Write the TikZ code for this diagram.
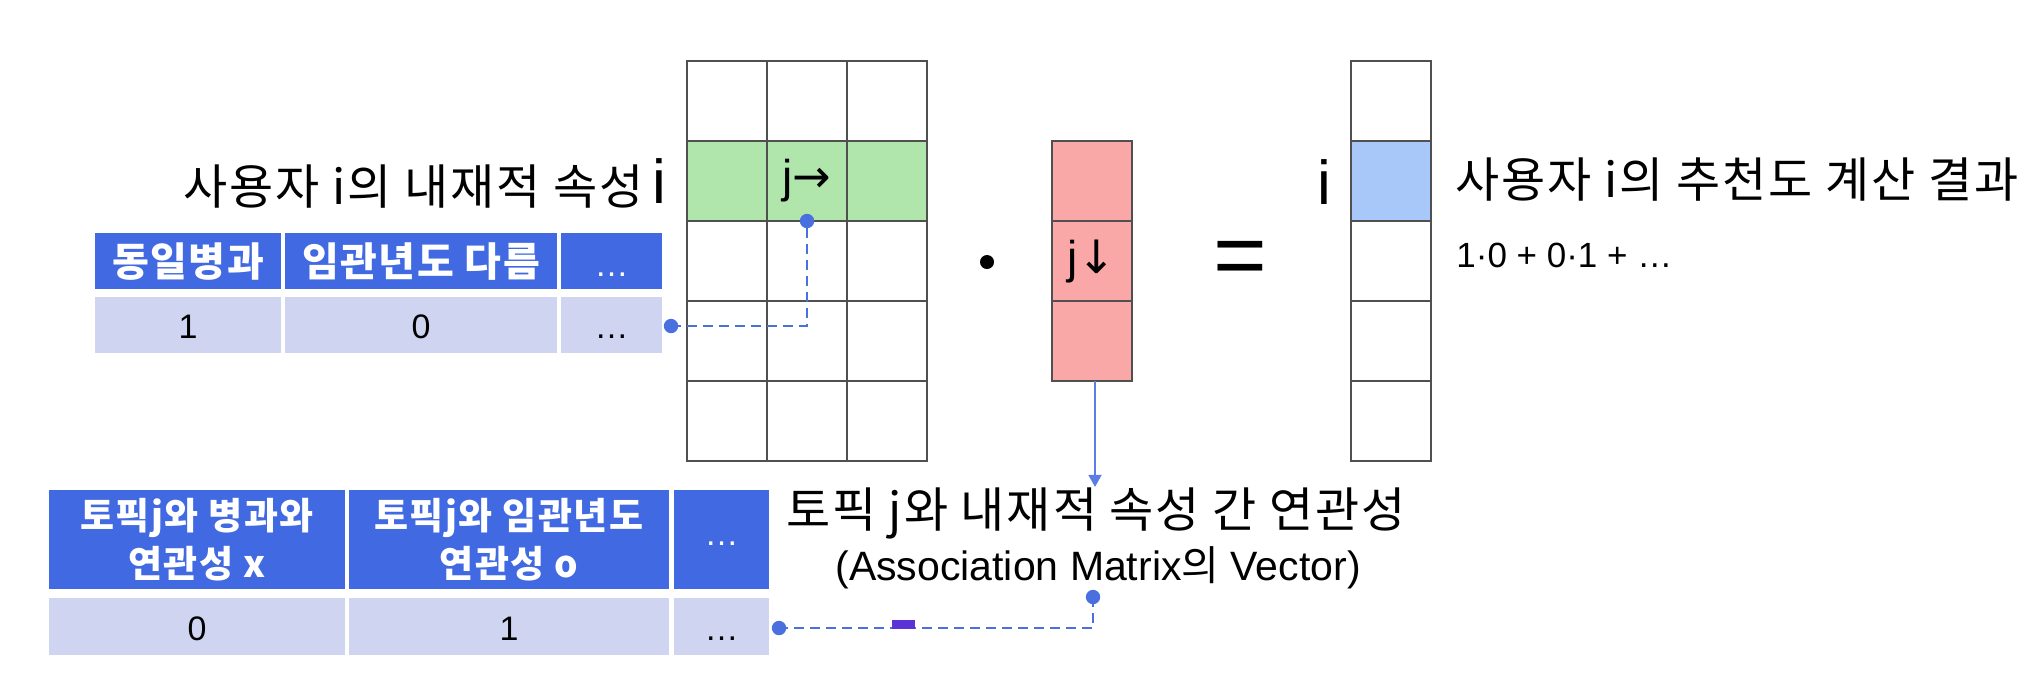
\documentclass[tikz,border=0pt]{standalone}
\usepackage{fontspec}
\setmainfont{Liberation Sans}
\newfontfamily\kr{Noto Sans CJK KR}[LetterSpace=4]
\newfontfamily\krplain{Noto Sans CJK KR}
\newfontfamily\symf{DejaVu Sans}
\usetikzlibrary{arrows.meta}
\definecolor{hdrblue}{RGB}{65,105,225}
\definecolor{datlav}{RGB}{207,213,241}
\definecolor{gfill}{RGB}{176,230,172}
\definecolor{rfill}{RGB}{250,167,167}
\definecolor{bfill}{RGB}{168,200,250}
\definecolor{gridgray}{RGB}{80,80,80}
\definecolor{linkblue}{RGB}{74,112,224}
\definecolor{purp}{RGB}{90,50,215}
\tikzset{
  gcell/.style={draw=gridgray, line width=1.4pt, inner sep=0pt, outer sep=0pt,
    minimum width=40pt, minimum height=40pt, font=\fontsize{23}{26}\selectfont},
  hdr/.style={fill=hdrblue, inner sep=0pt, outer sep=0pt, text=white,
    font=\kr\bfseries\fontsize{20}{22}\selectfont, text height=15pt, text depth=0pt},
  hdrtwo/.style={fill=hdrblue, inner sep=0pt, outer sep=0pt, text=white, align=center,
    font=\kr\bfseries\fontsize{18.5}{24}\selectfont},
  dat/.style={fill=datlav, inner sep=0pt, outer sep=0pt,
    font=\fontsize{17}{20}\selectfont, text height=13pt, text depth=0pt},
  link/.style={draw=linkblue, line width=1.3pt, dash pattern=on 5pt off 3pt},
  linkdot/.style={fill=linkblue},
  bigtxt/.style={inner sep=0pt, font=\kr\fontsize{24}{28}\selectfont},
  bigi/.style={inner sep=0pt, font=\fontsize{31}{34}\selectfont},
}
\begin{document}
\begin{tikzpicture}[x=0.5pt,y=-0.5pt]
\useasboundingbox (0,0) rectangle (2032,681);

% ---- association matrix (5 x 3) ----
\foreach \r/\f in {1/white,2/gfill,3/white,4/white,5/white}{
  \foreach \c in {1,2,3}{
    \node[gcell, fill=\f] (m-\r-\c) at ({687+80*(\c-0.5)},{61+80*(\r-0.5)}) {};
  }
}
\node[gcell, fill=gfill] (m-2-2) at (807,181) {j{\symf →}};

% ---- red vector ----
\node[gcell, fill=rfill] (v1) at (1092,181) {};
\node[gcell, fill=rfill] (v2) at (1092,261) {j{\symf ↓}};
\node[gcell, fill=rfill] (v3) at (1092,341) {};

% ---- result vector ----
\foreach \r/\f in {1/white,2/bfill,3/white,4/white,5/white}{
  \node[gcell, fill=\f] (r\r) at (1391,{61+80*(\r-0.5)}) {};
}

% ---- operators ----
\node[circle, fill=black, inner sep=0pt, minimum size=7pt] (dotop) at (987,262) {};
\node[inner sep=0pt, font=\fontsize{46}{50}\selectfont] (eq) at (1240,264) {=};

% ---- labels ----
\node[bigtxt, anchor=east] (ltitle) at (644,187) {사용자 i의 내재적 속성};
\node[bigi, anchor=base] (li) at (659,203) {i};
\node[bigi, anchor=base] (ri) at (1324,204) {i};
\node[bigtxt, anchor=west] (rtitle) at (1455,180) {사용자 i의 추천도 계산 결과};
\node[inner sep=0pt, anchor=base west, font=\fontsize{17.5}{20}\selectfont] (calc) at (1456,267) {1·0 + 0·1 + …};
\node[bigtxt] (lbl) at (1096,513) {토픽 j와 내재적 속성 간 연관성};
\node[inner sep=0pt, font=\fontsize{20.5}{24}\selectfont] (sub) at (1098,568) {(Association Matrix{\krplain 의} Vector)};

% ---- top table ----
\node[hdr, minimum width=93pt, minimum height=28pt] (t1h) at (188,261) {동일병과};
\node[hdr, minimum width=136pt, minimum height=28pt] (t2h) at (421,261) {임관년도 다름};
\node[hdr, minimum width=50.5pt, minimum height=28pt, font=\fontsize{17}{20}\selectfont] (t3h) at (611.5,261) {…};
\node[dat, minimum width=93pt, minimum height=28pt] (t1d) at (188,325) {1};
\node[dat, minimum width=136pt, minimum height=28pt] (t2d) at (421,325) {0};
\node[dat, minimum width=50.5pt, minimum height=28pt] (t3d) at (611.5,325) {…};

% ---- bottom table ----
\node[hdrtwo, minimum width=148pt, minimum height=49.5pt] (b1h) at (197,539.5) {토픽j와 병과와\\연관성 x};
\node[hdrtwo, minimum width=160pt, minimum height=49.5pt] (b2h) at (509,539.5) {토픽j와 임관년도\\연관성 o};
\node[hdr, minimum width=47.5pt, minimum height=49.5pt, text height=6pt, font=\fontsize{17}{20}\selectfont] (b3h) at (721.5,539.5) {…};
\node[dat, minimum width=148pt, minimum height=28.5pt, text height=13.5pt] (b1d) at (197,626.5) {0};
\node[dat, minimum width=160pt, minimum height=28.5pt, text height=13.5pt] (b2d) at (509,626.5) {1};
\node[dat, minimum width=47.5pt, minimum height=28.5pt, text height=13.5pt] (b3d) at (721.5,626.5) {…};

% ---- connectors ----
\coordinate (c1) at (671,326);
\draw[link] (c1) -| (m-2-2.south);
\fill[linkdot] (c1) circle (3.6pt);
\fill[linkdot] (m-2-2.south) circle (3.6pt);

\draw[draw=linkblue!90, line width=0.9pt, -{Triangle[length=6pt,width=6.5pt]}] ([xshift=1.5pt]v3.south) -- ([xshift=1.5pt]v3.south |- lbl.north);

\coordinate (c2) at (1093,597);
\coordinate (c3) at (779,628);
\draw[link] (c2) |- (c3);
\fill[linkdot] (c2) circle (3.6pt);
\fill[linkdot] (c3) circle (3.6pt);
\fill[purp] (892,620) rectangle (915,629);
\end{tikzpicture}
\end{document}
